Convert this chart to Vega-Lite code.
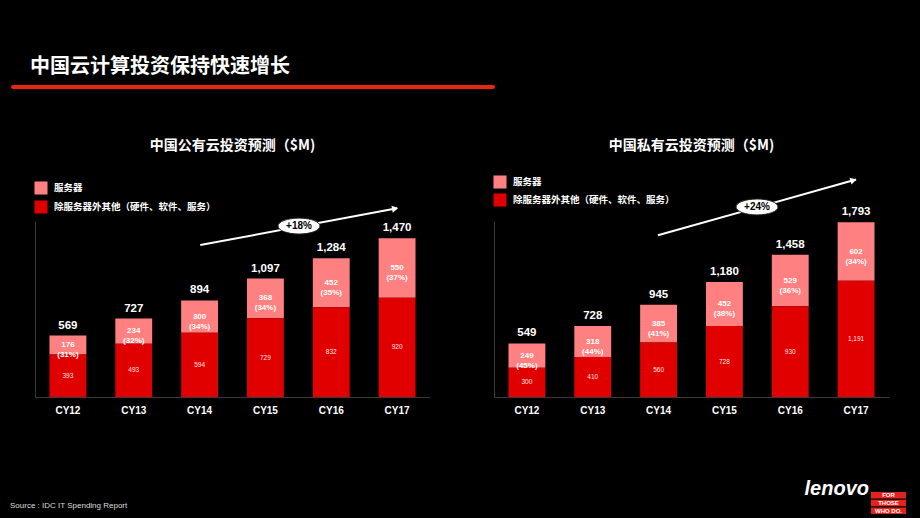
{
  "$schema": "https://vega.github.io/schema/vega-lite/v6.json",
  "background": "black",
  "padding": {"left": 10, "top": 57, "right": 15, "bottom": 5},
  "config": {
    "view": {"stroke": null},
    "font": "Liberation Sans",
    "title": {"color": "white", "font": "Noto Sans CJK SC", "fontWeight": "bold"},
    "axis": {"grid": false, "ticks": false},
    "axisX": {"domainColor": "#3a3a3a", "labelColor": "white", "labelFont": "Liberation Sans", "labelFontSize": 10, "labelFontWeight": "bold", "labelPadding": 8, "labelAngle": 0},
    "axisY": {"domainColor": "#3a3a3a", "labels": false, "minExtent": 25},
    "legend": {"padding": 0}
  },
  "datasets": {
    "pub": [
      {"year": "CY12", "seg": "服务器", "ord": 2, "value": 176, "label": "176\n(31%)", "total": 569},
      {"year": "CY12", "seg": "除服务器外其他（硬件、软件、服务）", "ord": 1, "value": 393, "label": "393"},
      {"year": "CY13", "seg": "服务器", "ord": 2, "value": 234, "label": "234\n(32%)", "total": 727},
      {"year": "CY13", "seg": "除服务器外其他（硬件、软件、服务）", "ord": 1, "value": 493, "label": "493"},
      {"year": "CY14", "seg": "服务器", "ord": 2, "value": 300, "label": "300\n(34%)", "total": 894},
      {"year": "CY14", "seg": "除服务器外其他（硬件、软件、服务）", "ord": 1, "value": 594, "label": "594"},
      {"year": "CY15", "seg": "服务器", "ord": 2, "value": 368, "label": "368\n(34%)", "total": 1097},
      {"year": "CY15", "seg": "除服务器外其他（硬件、软件、服务）", "ord": 1, "value": 729, "label": "729"},
      {"year": "CY16", "seg": "服务器", "ord": 2, "value": 452, "label": "452\n(35%)", "total": 1284},
      {"year": "CY16", "seg": "除服务器外其他（硬件、软件、服务）", "ord": 1, "value": 832, "label": "832"},
      {"year": "CY17", "seg": "服务器", "ord": 2, "value": 550, "label": "550\n(37%)", "total": 1470},
      {"year": "CY17", "seg": "除服务器外其他（硬件、软件、服务）", "ord": 1, "value": 920, "label": "920"}
    ],
    "priv": [
      {"year": "CY12", "seg": "服务器", "ord": 2, "value": 249, "label": "249\n(45%)", "total": 549},
      {"year": "CY12", "seg": "除服务器外其他（硬件、软件、服务）", "ord": 1, "value": 300, "label": "300"},
      {"year": "CY13", "seg": "服务器", "ord": 2, "value": 318, "label": "318\n(44%)", "total": 728},
      {"year": "CY13", "seg": "除服务器外其他（硬件、软件、服务）", "ord": 1, "value": 410, "label": "410"},
      {"year": "CY14", "seg": "服务器", "ord": 2, "value": 385, "label": "385\n(41%)", "total": 945},
      {"year": "CY14", "seg": "除服务器外其他（硬件、软件、服务）", "ord": 1, "value": 560, "label": "560"},
      {"year": "CY15", "seg": "服务器", "ord": 2, "value": 452, "label": "452\n(38%)", "total": 1180},
      {"year": "CY15", "seg": "除服务器外其他（硬件、软件、服务）", "ord": 1, "value": 728, "label": "728"},
      {"year": "CY16", "seg": "服务器", "ord": 2, "value": 529, "label": "529\n(36%)", "total": 1458},
      {"year": "CY16", "seg": "除服务器外其他（硬件、软件、服务）", "ord": 1, "value": 930, "label": "930"},
      {"year": "CY17", "seg": "服务器", "ord": 2, "value": 602, "label": "602\n(34%)", "total": 1793},
      {"year": "CY17", "seg": "除服务器外其他（硬件、软件、服务）", "ord": 1, "value": 1191, "label": "1,191"}
    ],
    "pubArrow": [
      {"kind": "line", "ax": 2.51, "ay": 1407},
      {"kind": "line", "ax": 5.5, "ay": 1748},
      {"kind": "head", "ax": 5.47, "ay": 1744},
      {"kind": "badge", "ax": 4.01, "ay": 1583, "lab": "+18%"}
    ],
    "privArrow": [
      {"kind": "line", "ax": 2.49, "ay": 1658},
      {"kind": "line", "ax": 5.5, "ay": 2231},
      {"kind": "head", "ax": 5.46, "ay": 2223},
      {"kind": "badge", "ax": 3.995, "ay": 1949, "lab": "+24%"}
    ],
    "logo": [{"w": "FOR"}, {"w": "THOSE"}, {"w": "WHO DO."}]
  },
  "columns": 1,
  "spacing": 64,
  "concat": [
    {
      "columns": 1,
      "spacing": 49,
      "concat": [
        {
          "width": 458,
          "height": 4,
          "title": {"text": "中国云计算投资保持快速增长", "anchor": "start", "frame": "group", "dx": -5, "offset": 8, "fontSize": 20},
          "data": {"values": [{}]},
          "mark": {"type": "rule", "color": "#E8260F", "strokeWidth": 4, "strokeCap": "round"},
          "encoding": {
            "x": {"datum": 0, "type": "quantitative", "scale": {"domain": [0, 1], "range": [-22, 458]}, "axis": null},
            "x2": {"datum": 1}
          }
        },
        {
          "spacing": 39,
          "resolve": {"scale": {"x": "independent", "y": "independent", "color": "independent"}, "legend": {"color": "independent"}},
          "hconcat": [
            {
              "width": 395,
              "height": 176,
              "title": {"text": "中国公有云投资预测（$M)", "offset": 28.5, "fontSize": 14},
              "resolve": {"scale": {"x": "independent"}},
              "layer": [
                {
                  "data": {"name": "pub"},
                  "transform": [{"stack": "value", "groupby": ["year"], "sort": [{"field": "ord", "order": "ascending"}], "as": ["v0", "v1"]}],
                  "encoding": {
                    "x": {"field": "year", "type": "nominal", "sort": null, "bandPosition": 0.5, "scale": {"type": "band", "paddingInner": 0.44, "paddingOuter": 0.22}, "axis": {"title": null}}
                  },
                  "layer": [
                    {
                      "mark": {"type": "bar"},
                      "encoding": {
                        "y": {"field": "v1", "type": "quantitative", "title": null, "scale": {"domain": [0, 1630], "nice": false}},
                        "y2": {"field": "v0"},
                        "color": {"field": "seg", "type": "nominal",
                          "scale": {"domain": ["服务器", "除服务器外其他（硬件、软件、服务）"], "range": ["#FF8080", "#E00000"]},
                          "legend": {"orient": "none", "legendX": -1, "legendY": -40, "title": null, "symbolType": "square", "symbolSize": 170, "symbolStrokeWidth": 0, "labelColor": "white", "labelFontSize": 9.5, "labelFont": "Noto Sans CJK SC", "labelFontWeight": "bold", "rowPadding": 5, "labelLimit": 300, "labelOffset": 6}}
                      }
                    },
                    {
                      "transform": [{"filter": "datum.ord == 2"}, {"fold": ["v0", "v1"], "as": ["k", "pos"]}, {"aggregate": [{"op": "mean", "field": "pos", "as": "mid"}], "groupby": ["year", "label"]}],
                      "mark": {"type": "text", "color": "white", "fontSize": 8, "fontWeight": "bold", "lineBreak": "\n", "lineHeight": 10, "baseline": "middle"},
                      "encoding": {
                        "y": {"field": "mid", "type": "quantitative", "title": null, "scale": {"domain": [0, 1630], "nice": false}},
                        "text": {"field": "label"}
                      }
                    },
                    {
                      "transform": [{"filter": "datum.ord == 1"}, {"fold": ["v0", "v1"], "as": ["k", "pos"]}, {"aggregate": [{"op": "mean", "field": "pos", "as": "mid"}], "groupby": ["year", "label"]}],
                      "mark": {"type": "text", "color": "#ffe6e6", "fontSize": 6.5, "baseline": "middle"},
                      "encoding": {
                        "y": {"field": "mid", "type": "quantitative", "title": null, "scale": {"domain": [0, 1630], "nice": false}},
                        "text": {"field": "label"}
                      }
                    },
                    {
                      "transform": [{"filter": "datum.ord == 2"}],
                      "mark": {"type": "text", "color": "white", "fontSize": 11.5, "fontWeight": "bold", "baseline": "bottom", "dy": -5},
                      "encoding": {
                        "y": {"field": "v1", "type": "quantitative", "title": null, "scale": {"domain": [0, 1630], "nice": false}},
                        "text": {"field": "total", "type": "quantitative", "format": ","}
                      }
                    }
                  ]
                },
                {
                  "data": {"name": "pubArrow"},
                  "encoding": {
                    "x": {"field": "ax", "type": "quantitative", "scale": {"domain": [0, 6], "nice": false, "zero": false}, "axis": null},
                    "y": {"field": "ay", "type": "quantitative", "title": null, "scale": {"domain": [0, 1630], "nice": false}}
                  },
                  "layer": [
                    {"transform": [{"filter": "datum.kind == 'line'"}], "mark": {"type": "line", "color": "white", "strokeWidth": 2}},
                    {"transform": [{"filter": "datum.kind == 'head'"}], "mark": {"type": "point", "shape": "triangle-right", "filled": true, "color": "white", "opacity": 1, "size": 50, "angle": 349}},
                    {"transform": [{"filter": "datum.kind == 'badge'"}], "mark": {"type": "point", "shape": "M -1 0 A 1 0.38 0 1 1 1 0 A 1 0.38 0 1 1 -1 0 Z", "filled": true, "fill": "white", "stroke": "#222", "strokeWidth": 1, "opacity": 1, "size": 1764}},
                    {"transform": [{"filter": "datum.kind == 'badge'"}], "mark": {"type": "text", "color": "black", "fontSize": 10, "fontWeight": "bold", "baseline": "middle"}, "encoding": {"text": {"field": "lab"}}}
                  ]
                }
              ]
            },
            {
              "width": 395,
              "height": 176,
              "title": {"text": "中国私有云投资预测（$M)", "offset": 22.5, "fontSize": 14},
              "resolve": {"scale": {"x": "independent"}},
              "layer": [
                {
                  "data": {"name": "priv"},
                  "transform": [{"stack": "value", "groupby": ["year"], "sort": [{"field": "ord", "order": "ascending"}], "as": ["v0", "v1"]}],
                  "encoding": {
                    "x": {"field": "year", "type": "nominal", "sort": null, "bandPosition": 0.5, "scale": {"type": "band", "paddingInner": 0.44, "paddingOuter": 0.22}, "axis": {"title": null}}
                  },
                  "layer": [
                    {
                      "mark": {"type": "bar"},
                      "encoding": {
                        "y": {"field": "v1", "type": "quantitative", "title": null, "scale": {"domain": [0, 1805], "nice": false}},
                        "y2": {"field": "v0"},
                        "color": {"field": "seg", "type": "nominal",
                          "scale": {"domain": ["服务器", "除服务器外其他（硬件、软件、服务）"], "range": ["#FF8080", "#E00000"]},
                          "legend": {"orient": "none", "legendX": -1, "legendY": -46, "title": null, "symbolType": "square", "symbolSize": 170, "symbolStrokeWidth": 0, "labelColor": "white", "labelFontSize": 9.5, "labelFont": "Noto Sans CJK SC", "labelFontWeight": "bold", "rowPadding": 4, "labelLimit": 300, "labelOffset": 6}}
                      }
                    },
                    {
                      "transform": [{"filter": "datum.ord == 2"}, {"fold": ["v0", "v1"], "as": ["k", "pos"]}, {"aggregate": [{"op": "mean", "field": "pos", "as": "mid"}], "groupby": ["year", "label"]}],
                      "mark": {"type": "text", "color": "white", "fontSize": 8, "fontWeight": "bold", "lineBreak": "\n", "lineHeight": 10, "baseline": "middle"},
                      "encoding": {
                        "y": {"field": "mid", "type": "quantitative", "title": null, "scale": {"domain": [0, 1805], "nice": false}},
                        "text": {"field": "label"}
                      }
                    },
                    {
                      "transform": [{"filter": "datum.ord == 1"}, {"fold": ["v0", "v1"], "as": ["k", "pos"]}, {"aggregate": [{"op": "mean", "field": "pos", "as": "mid"}], "groupby": ["year", "label"]}],
                      "mark": {"type": "text", "color": "#ffe6e6", "fontSize": 6.5, "baseline": "middle"},
                      "encoding": {
                        "y": {"field": "mid", "type": "quantitative", "title": null, "scale": {"domain": [0, 1805], "nice": false}},
                        "text": {"field": "label"}
                      }
                    },
                    {
                      "transform": [{"filter": "datum.ord == 2"}],
                      "mark": {"type": "text", "color": "white", "fontSize": 11.5, "fontWeight": "bold", "baseline": "bottom", "dy": -5},
                      "encoding": {
                        "y": {"field": "v1", "type": "quantitative", "title": null, "scale": {"domain": [0, 1805], "nice": false}},
                        "text": {"field": "total", "type": "quantitative", "format": ","}
                      }
                    }
                  ]
                },
                {
                  "data": {"name": "privArrow"},
                  "encoding": {
                    "x": {"field": "ax", "type": "quantitative", "scale": {"domain": [0, 6], "nice": false, "zero": false}, "axis": null},
                    "y": {"field": "ay", "type": "quantitative", "title": null, "scale": {"domain": [0, 1805], "nice": false}}
                  },
                  "layer": [
                    {"transform": [{"filter": "datum.kind == 'line'"}], "mark": {"type": "line", "color": "white", "strokeWidth": 2}},
                    {"transform": [{"filter": "datum.kind == 'head'"}], "mark": {"type": "point", "shape": "triangle-right", "filled": true, "color": "white", "opacity": 1, "size": 50, "angle": 344}},
                    {"transform": [{"filter": "datum.kind == 'badge'"}], "mark": {"type": "point", "shape": "M -1 0 A 1 0.38 0 1 1 1 0 A 1 0.38 0 1 1 -1 0 Z", "filled": true, "fill": "white", "stroke": "#222", "strokeWidth": 1, "opacity": 1, "size": 1764}},
                    {"transform": [{"filter": "datum.kind == 'badge'"}], "mark": {"type": "text", "color": "black", "fontSize": 10, "fontWeight": "bold", "baseline": "middle"}, "encoding": {"text": {"field": "lab"}}}
                  ]
                }
              ]
            }
          ]
        }
      ]
    },
    {
      "spacing": 0,
      "hconcat": [
        {
          "width": 769,
          "height": 10,
          "title": {"text": "Source : IDC IT Spending Report", "orient": "bottom", "anchor": "start", "frame": "group", "dx": -25, "offset": 0, "fontSize": 8, "font": "Liberation Sans", "fontWeight": "normal", "color": "#dddddd"},
          "data": {"values": [{}]},
          "mark": {"type": "point", "opacity": 0}
        },
        {
          "width": 35,
          "height": 22,
          "title": {"text": "lenovo", "orient": "top", "anchor": "start", "frame": "group", "align": "right", "dx": -2, "offset": -7, "fontSize": 20, "font": "Liberation Sans", "fontStyle": "italic", "fontWeight": "bold", "color": "white"},
          "data": {"name": "logo"},
          "encoding": {"y": {"field": "w", "type": "nominal", "sort": null, "axis": null, "scale": {"paddingInner": 0.15, "paddingOuter": 0}}},
          "layer": [
            {"mark": {"type": "bar", "color": "#E2231A"}},
            {"mark": {"type": "text", "color": "white", "fontSize": 6, "fontWeight": "bold", "baseline": "middle"}, "encoding": {"text": {"field": "w"}}}
          ]
        }
      ]
    }
  ]
}
